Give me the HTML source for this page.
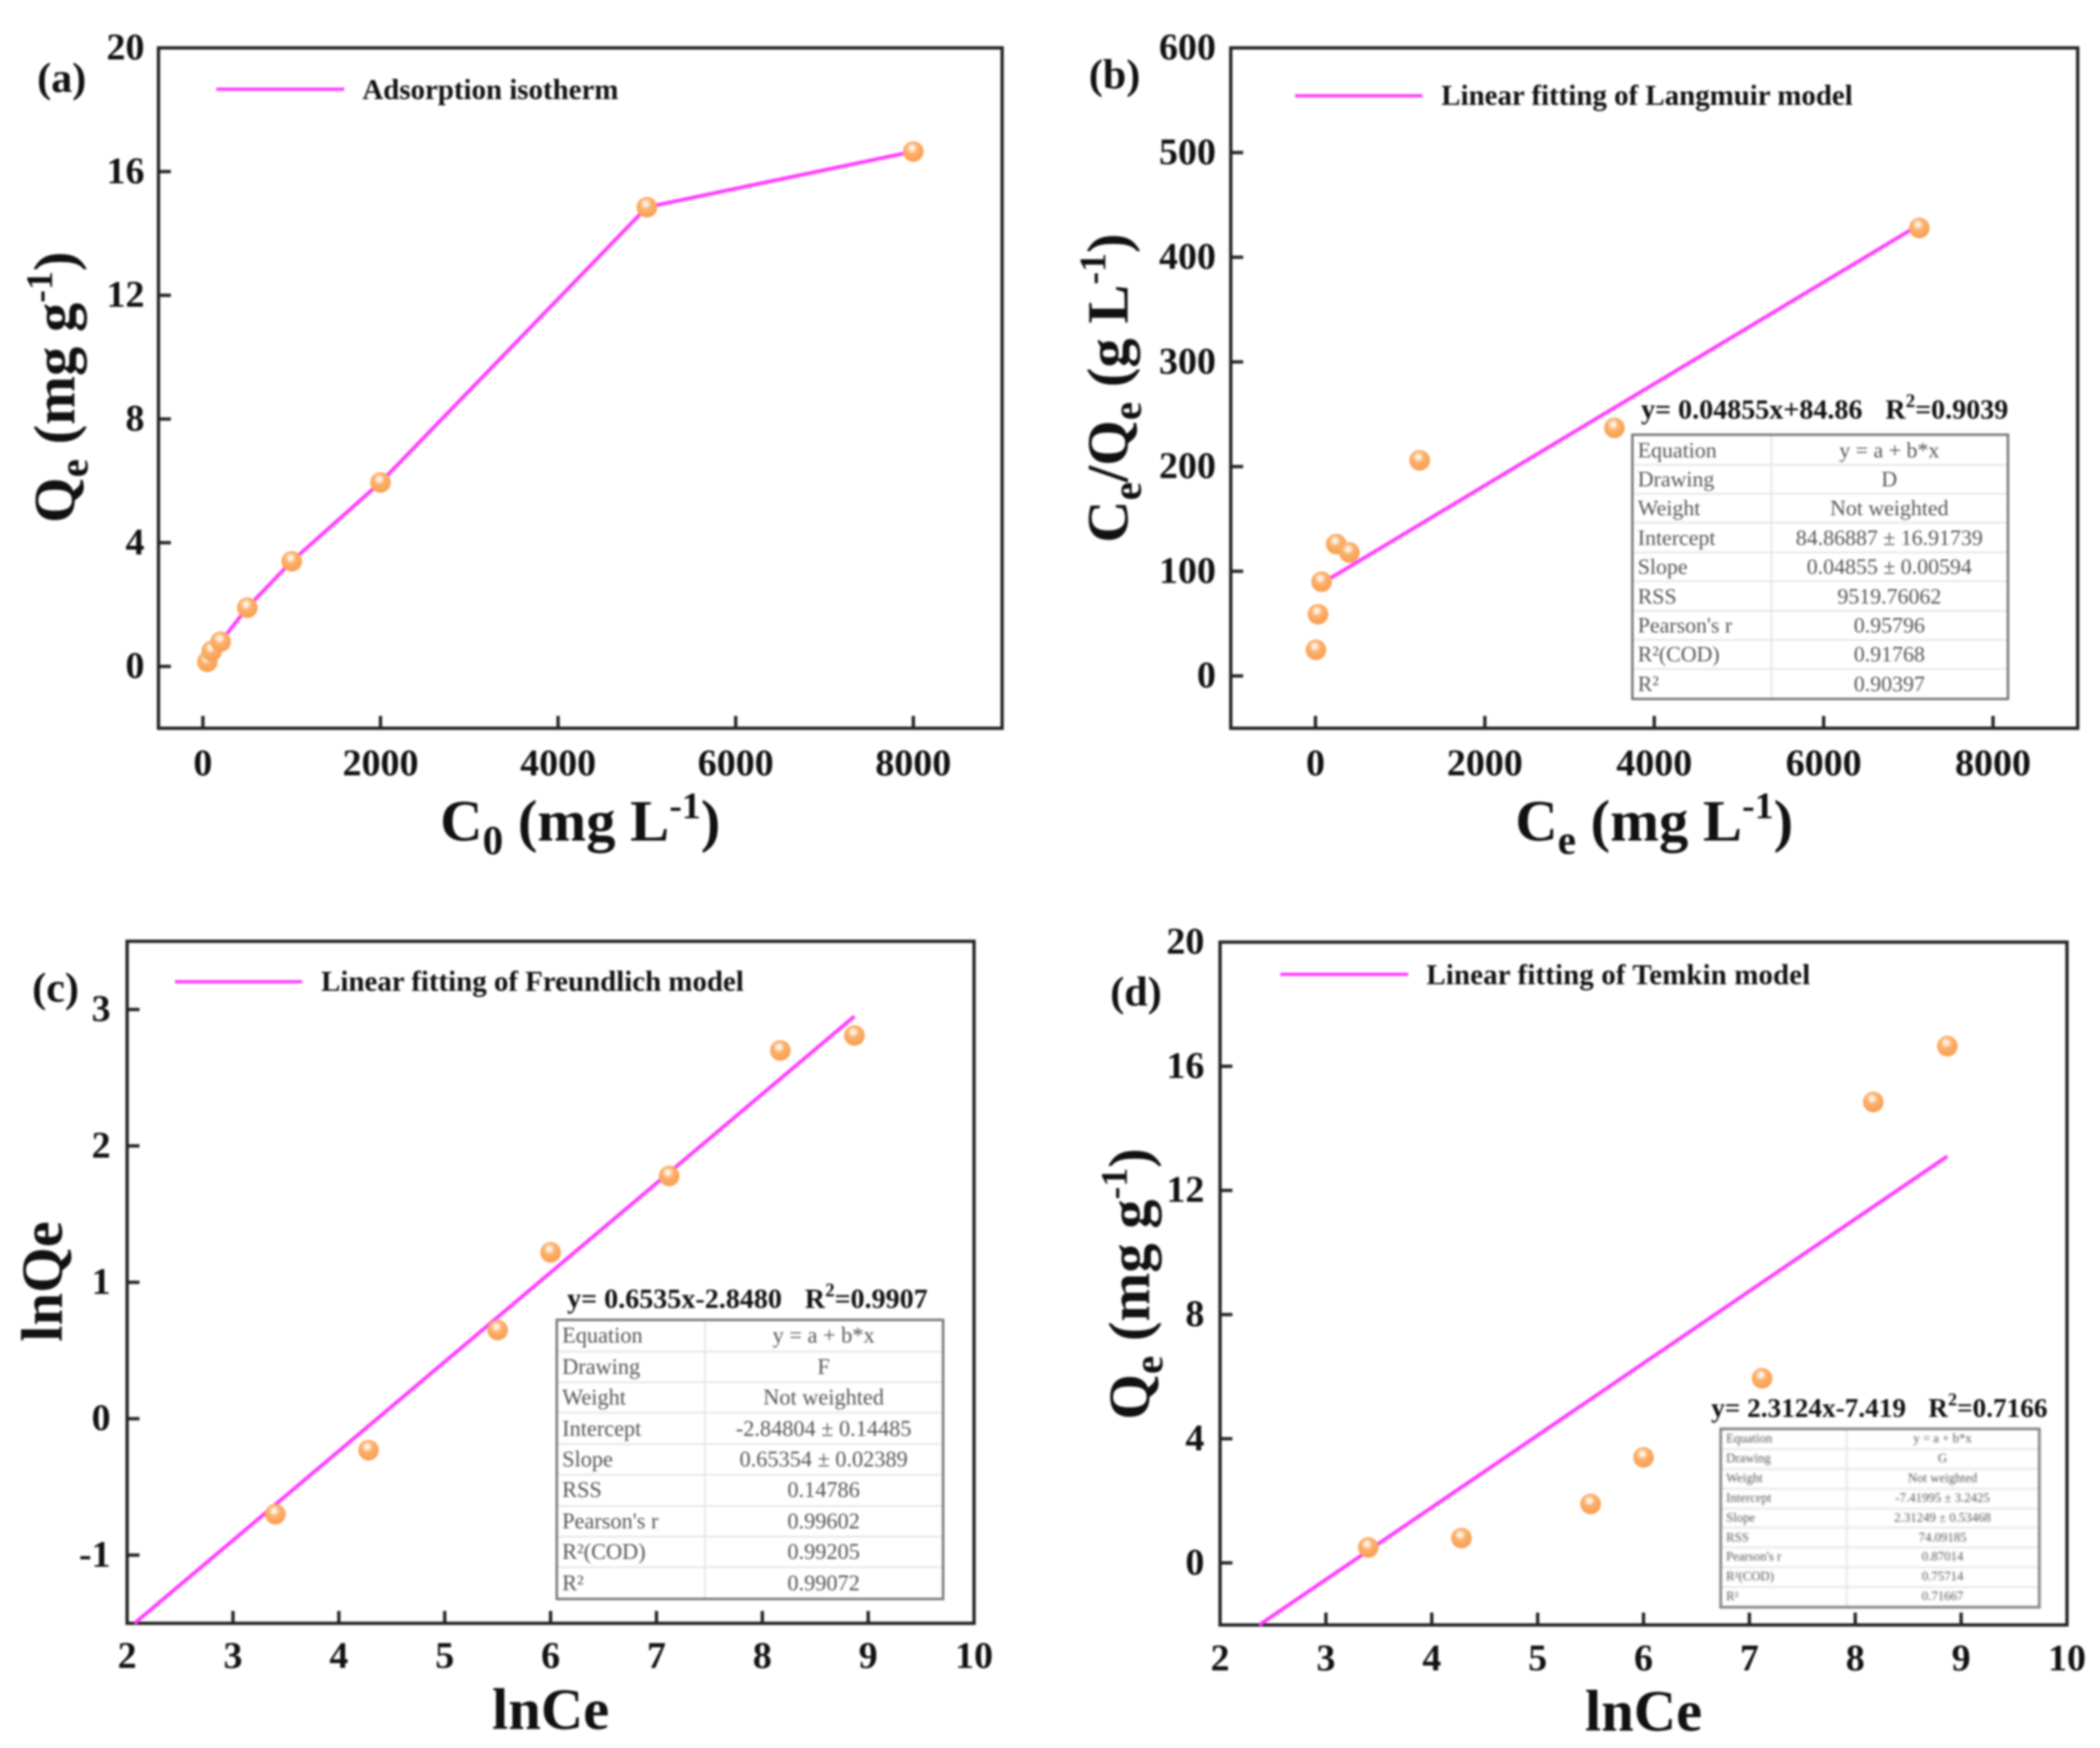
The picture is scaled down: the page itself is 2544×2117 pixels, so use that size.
<!DOCTYPE html>
<html lang="en">
<head>
<meta charset="utf-8">
<title>Adsorption isotherm fits</title>
<style>
html,body{margin:0;padding:0;background:#fff;}
#page{position:relative;width:2544px;height:2117px;overflow:hidden;background:#fff;filter:blur(1.3px);}
svg{position:absolute;left:0;top:0;}
text{font-family:"Liberation Serif",serif;font-weight:bold;fill:#111;}
.tick-label{font-size:46px;}
.title{font-size:71px;}
.legend{font-size:35px;}
.panel{font-size:51px;}
.eq{font-size:34px;}
table.fit{position:absolute;border-collapse:collapse;table-layout:fixed;border:3px solid #777;background:#fff;font-family:"Liberation Serif",serif;color:#555;}
table.fit td{padding:0 0 0 5px;border-bottom:2px solid #e4e4e4;white-space:nowrap;overflow:hidden;line-height:1;}
table.fit td+td{padding:0;text-align:center;border-left:2px solid #e4e4e4;}
table.fit tr:last-child td{border-bottom:none;}
#table-b{left:1976px;top:525px;width:458px;height:323px;font-size:26.5px;}
#table-c{left:673px;top:1597px;width:471px;height:341px;font-size:27px;}
#table-d{left:2083px;top:1729px;width:389px;height:219px;font-size:15.5px;filter:blur(.8px);}
</style>
</head>
<body>
<div id="page">
<svg id="chart" width="2544" height="2117" viewBox="0 0 2544 2117" xmlns="http://www.w3.org/2000/svg">
  <defs>
    <radialGradient id="ball" cx="0.44" cy="0.34" r="0.68">
      <stop offset="0" stop-color="#ffffff"/>
      <stop offset="0.16" stop-color="#ffe9d4"/>
      <stop offset="0.4" stop-color="#fcb06c"/>
      <stop offset="1" stop-color="#f79d4d"/>
    </radialGradient>
  </defs>

  <g id="panel-a">
    <rect x="192" y="58" width="1022" height="824" fill="none" stroke="#222" stroke-width="4"/>
    <text class="panel" x="45" y="111">(a)</text>
    <line x1="262" y1="108" x2="417" y2="108" stroke="#ff3dff" stroke-width="4"/>
    <text class="legend" x="439" y="120">Adsorption isotherm</text>
    <text class="title" x="703" y="1018" text-anchor="middle">C<tspan font-size="50" dy="16">0</tspan><tspan dy="-16"> (mg L</tspan><tspan font-size="46" dy="-27">-1</tspan><tspan dy="27">)</tspan></text>
    <text class="title" transform="translate(90,469) rotate(-90)" text-anchor="middle">Q<tspan font-size="50" dy="16">e</tspan><tspan dy="-16"> (mg g</tspan><tspan font-size="46" dy="-27">-1</tspan><tspan dy="27">)</tspan></text>
  </g>

  <g id="panel-b">
    <rect x="1491" y="58" width="1026" height="824" fill="none" stroke="#222" stroke-width="4"/>
    <text class="panel" x="1319" y="107">(b)</text>
    <line x1="1569" y1="116" x2="1723" y2="116" stroke="#ff3dff" stroke-width="4"/>
    <text class="legend" x="1746" y="127">Linear fitting of Langmuir model</text>
    <text class="title" x="2004" y="1018" text-anchor="middle">C<tspan font-size="50" dy="16">e</tspan><tspan dy="-16"> (mg L</tspan><tspan font-size="46" dy="-27">-1</tspan><tspan dy="27">)</tspan></text>
    <text class="title" transform="translate(1366,470) rotate(-90)" text-anchor="middle">C<tspan font-size="50" dy="16">e</tspan><tspan dy="-16">/Q</tspan><tspan font-size="50" dy="16">e</tspan><tspan dy="-16"> (g L</tspan><tspan font-size="46" dy="-27">-1</tspan><tspan dy="27">)</tspan></text>
    <text class="eq" x="1988" y="507">y= 0.04855x+84.86<tspan x="2284">R</tspan><tspan font-size="23" dy="-14">2</tspan><tspan dy="14">=0.9039</tspan></text>
  </g>

  <g id="panel-c">
    <rect x="154" y="1140" width="1026" height="826" fill="none" stroke="#222" stroke-width="4"/>
    <text class="panel" x="39" y="1213">(c)</text>
    <line x1="212" y1="1189" x2="366" y2="1189" stroke="#ff3dff" stroke-width="4"/>
    <text class="legend" x="389" y="1200">Linear fitting of Freundlich model</text>
    <text class="title" x="667" y="2094" text-anchor="middle">lnCe</text>
    <text class="title" transform="translate(75,1552) rotate(-90)" text-anchor="middle">lnQe</text>
    <text class="eq" x="687" y="1584">y= 0.6535x-2.8480<tspan x="975">R</tspan><tspan font-size="23" dy="-14">2</tspan><tspan dy="14">=0.9907</tspan></text>
  </g>

  <g id="panel-d">
    <rect x="1478" y="1141" width="1026" height="827" fill="none" stroke="#222" stroke-width="4"/>
    <text class="panel" x="1345" y="1218">(d)</text>
    <line x1="1551" y1="1180" x2="1706" y2="1180" stroke="#ff3dff" stroke-width="4"/>
    <text class="legend" x="1728" y="1192" textLength="465" lengthAdjust="spacing">Linear fitting of Temkin model</text>
    <text class="title" x="1991" y="2096" text-anchor="middle">lnCe</text>
    <text class="title" transform="translate(1392,1555) rotate(-90)" text-anchor="middle">Q<tspan font-size="50" dy="16">e</tspan><tspan dy="-16"> (mg g</tspan><tspan font-size="46" dy="-27">-1</tspan><tspan dy="27">)</tspan></text>
    <text class="eq" style="font-size:33px" x="2073" y="1716">y= 2.3124x-7.419<tspan x="2336">R</tspan><tspan font-size="22" dy="-14">2</tspan><tspan dy="14">=0.7166</tspan></text>
  </g>
</svg>

<table class="fit" id="table-b">
<colgroup><col style="width:168px"><col></colgroup>
<tr><td>Equation</td><td>y = a + b*x</td></tr>
<tr><td>Drawing</td><td>D</td></tr>
<tr><td>Weight</td><td>Not weighted</td></tr>
<tr><td>Intercept</td><td>84.86887 ± 16.91739</td></tr>
<tr><td>Slope</td><td>0.04855 ± 0.00594</td></tr>
<tr><td>RSS</td><td>9519.76062</td></tr>
<tr><td>Pearson's r</td><td>0.95796</td></tr>
<tr><td>R²(COD)</td><td>0.91768</td></tr>
<tr><td>R²</td><td>0.90397</td></tr>
</table>

<table class="fit" id="table-c">
<colgroup><col style="width:179px"><col></colgroup>
<tr><td>Equation</td><td>y = a + b*x</td></tr>
<tr><td>Drawing</td><td>F</td></tr>
<tr><td>Weight</td><td>Not weighted</td></tr>
<tr><td>Intercept</td><td>-2.84804 ± 0.14485</td></tr>
<tr><td>Slope</td><td>0.65354 ± 0.02389</td></tr>
<tr><td>RSS</td><td>0.14786</td></tr>
<tr><td>Pearson's r</td><td>0.99602</td></tr>
<tr><td>R²(COD)</td><td>0.99205</td></tr>
<tr><td>R²</td><td>0.99072</td></tr>
</table>

<table class="fit" id="table-d">
<colgroup><col style="width:152px"><col></colgroup>
<tr><td>Equation</td><td>y = a + b*x</td></tr>
<tr><td>Drawing</td><td>G</td></tr>
<tr><td>Weight</td><td>Not weighted</td></tr>
<tr><td>Intercept</td><td>-7.41995 ± 3.2425</td></tr>
<tr><td>Slope</td><td>2.31249 ± 0.53468</td></tr>
<tr><td>RSS</td><td>74.09185</td></tr>
<tr><td>Pearson's r</td><td>0.87014</td></tr>
<tr><td>R²(COD)</td><td>0.75714</td></tr>
<tr><td>R²</td><td>0.71667</td></tr>
</table>
</div>

<script>
// Panel (a): adsorption isotherm
const aXTicks = [0, 2000, 4000, 6000, 8000];
const aYTicks = [0, 4, 8, 12, 16, 20];
const aC0 = [50, 100, 200, 500, 1000, 2000, 5000, 8000];
const aQe = [0.15, 0.5, 0.8, 1.9, 3.4, 5.95, 14.85, 16.65];

// Panel (b): Langmuir
const bXTicks = [0, 2000, 4000, 6000, 8000];
const bYTicks = [0, 100, 200, 300, 400, 500, 600];
const bCe = [5, 30, 72, 245, 400, 1230, 3530, 7130];
const bCeQe = [25, 59, 90, 126, 118, 206, 237, 428];
const bFitX = [10, 7130];
const bFitY = [85.3, 431];

// Panel (c): Freundlich
const cXTicks = [2, 3, 4, 5, 6, 7, 8, 9, 10];
const cYTicks = [-1, 0, 1, 2, 3];
const cLnCe = [3.4, 4.28, 5.5, 6.0, 7.12, 8.17, 8.87];
const cLnQe = [-0.7, -0.23, 0.65, 1.22, 1.78, 2.7, 2.81];
const cFitX = [2.07, 8.87];
const cFitY = [-1.5, 2.95];

// Panel (d): Temkin
const dXTicks = [2, 3, 4, 5, 6, 7, 8, 9, 10];
const dYTicks = [0, 4, 8, 12, 16, 20];
const dLnCe = [3.4, 4.28, 5.5, 6.0, 7.12, 8.17, 8.87];
const dQe = [0.5, 0.8, 1.9, 3.4, 5.95, 14.85, 16.65];
const dFitX = [2.37, 8.87];
const dFitY = [-2, 13.1];

const NS = 'http://www.w3.org/2000/svg';

function axis(d0, d1, r0, r1) {
  return function (v) { return r0 + (v - d0) * (r1 - r0) / (d1 - d0); };
}

function make(parent, tag, attrs) {
  const el = document.createElementNS(NS, tag);
  for (const k in attrs) el.setAttribute(k, attrs[k]);
  parent.appendChild(el);
  return el;
}

function drawPanel(id, sx, sy, xTicks, yTicks, labelGapX, labelBaseY, seriesX, seriesY, lineX, lineY) {
  const g = document.getElementById('panel-' + id);
  const x0 = sx.left, y0 = sy.bottom;

  xTicks.forEach(function (t) {
    const tick = make(g, 'line', { x1: sx(t), x2: sx(t), y1: y0, y2: y0 - 15, stroke: '#222', 'stroke-width': 4 });
    
    
    const lab = make(g, 'text', { x: sx(t), y: labelBaseY, 'text-anchor': 'middle', class: 'tick-label' });
    lab.textContent = t;
    
    
  });

  yTicks.forEach(function (t) {
    const tick = make(g, 'line', { x1: x0, x2: x0 + 15, y1: sy(t), y2: sy(t), stroke: '#222', 'stroke-width': 4 });
    
    
    const lab = make(g, 'text', { x: x0 - labelGapX, y: sy(t) + 14, 'text-anchor': 'end', class: 'tick-label' });
    lab.textContent = t;
    
    
  });

  const pts = lineX.map(function (v, i) { return sx(v) + ',' + sy(lineY[i]); }).join(' ');
  const line = make(g, 'polyline', { points: pts, fill: 'none', stroke: '#ff3dff', 'stroke-width': 4.5, 'stroke-linejoin': 'round' });
  
  

  seriesX.forEach(function (v, i) {
    const c = make(g, 'circle', { cx: sx(v), cy: sy(seriesY[i]), r: 12.5, fill: 'url(#ball)' });
    
    
  });
}

function scaleX(d0, d1, left, right) {
  const f = axis(d0, d1, left, right);
  f.left = left;
  return f;
}
function scaleY(d0, d1, bottom, top) {
  const f = axis(d0, d1, bottom, top);
  f.bottom = bottom;
  return f;
}

drawPanel('a', scaleX(-500, 9000, 192, 1214), scaleY(-2, 20, 882, 58), aXTicks, aYTicks, 17, 939, aC0, aQe, aC0, aQe);
drawPanel('b', scaleX(-1000, 9000, 1491, 2517), scaleY(-50, 600, 882, 58), bXTicks, bYTicks, 18, 939, bCe, bCeQe, bFitX, bFitY);
drawPanel('c', scaleX(2, 10, 154, 1180), scaleY(-1.5, 3.5, 1966, 1140), cXTicks, cYTicks, 20, 2020, cLnCe, cLnQe, cFitX, cFitY);
drawPanel('d', scaleX(2, 10, 1478, 2504), scaleY(-2, 20, 1968, 1141), dXTicks, dYTicks, 19, 2023, dLnCe, dQe, dFitX, dFitY);
</script>
</body>
</html>
